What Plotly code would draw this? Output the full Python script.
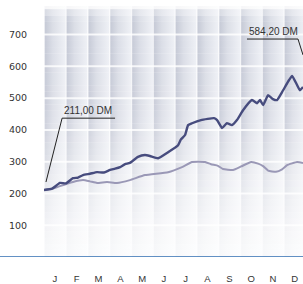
import plotly.graph_objects as go

# ---- data ----
months = ["J", "F", "M", "A", "M", "J", "J", "A", "S", "O", "N", "D"]
y_ticks = [100, 200, 300, 400, 500, 600, 700]

# dark series (x in months from start of year)
dark_x = [0.00, 0.37, 0.73, 1.01, 1.33, 1.56, 1.79, 2.11, 2.43, 2.75, 3.03, 3.26, 3.49,
          3.72, 3.94, 4.31, 4.63, 4.86, 5.23, 5.69, 6.15, 6.28, 6.47, 6.61, 6.79, 7.20,
          7.80, 7.94, 8.17, 8.39, 8.62, 8.85, 9.13, 9.54, 9.77, 9.91, 10.05, 10.28,
          10.50, 10.69, 10.92, 11.24, 11.38, 11.61, 11.74, 11.88]
dark_y = [211, 215, 233, 232, 248, 250, 258, 262, 267, 266, 274, 278, 283,
          292, 296, 315, 321, 318, 311, 330, 352, 370, 384, 415, 421, 431,
          437, 431, 406, 421, 415, 431, 462, 494, 484, 494, 478, 509,
          497, 494, 519, 557, 570, 541, 525, 535]

# light series
light_x = [0.00, 0.37, 0.73, 1.33, 1.79, 2.11, 2.43, 2.89, 3.35, 3.94, 4.63, 5.69, 6.33,
           6.79, 7.39, 7.66, 7.98, 8.21, 8.67, 9.04, 9.50, 9.82, 10.05, 10.28, 10.64,
           10.92, 11.15, 11.61, 11.88]
light_y = [211, 214, 223, 236, 242, 238, 233, 236, 233, 242, 258, 267, 283,
           299, 299, 292, 287, 277, 274, 285, 299, 294, 286, 272, 268,
           276, 289, 299, 296]

start_label = "211,00 DM"
end_label = "584,20 DM"

Y_MAX = 790
X_MAX = 11.88

fig = go.Figure()


def shade(f):
    """mix white with the column base colour by factor f"""
    base = (196, 200, 213)
    light = (238, 240, 245)
    d = tuple(round(255 - f * (255 - c)) for c in base)
    l = tuple(round(255 - f * (255 - c)) for c in light)
    return d, l


def factor(v):
    pts = [(0, 0.12), (100, 0.22), (200, 0.38), (300, 0.58), (400, 0.78), (500, 0.9),
           (740, 0.95), (765, 0.8), (790, 0.0)]
    for (a, fa), (b, fb) in zip(pts, pts[1:]):
        if a <= v <= b:
            return fa + (fb - fa) * (v - a) / (b - a)
    return 0


BAND = 20
for i in range(len(months)):
    y0 = 0
    while y0 < Y_MAX:
        y1 = min(y0 + BAND, Y_MAX)
        d, l = shade(factor((y0 + y1) / 2))
        fig.add_trace(go.Scatter(
            x=[i, i + 1, i + 1, i, i], y=[y0, y0, y1 + 0.8, y1 + 0.8, y0],
            mode="lines", line=dict(width=0), fill="toself",
            fillgradient=dict(type="horizontal", colorscale=[
                [0, "rgb(253,253,254)"], [0.07, "rgb(%d,%d,%d)" % d],
                [0.4, "rgb(%d,%d,%d)" % tuple((a + b) // 2 for a, b in zip(d, l))],
                [1, "rgb(%d,%d,%d)" % l]]),
            hoverinfo="skip", showlegend=False))
        y0 = y1

# white horizontal grid lines
for v in y_ticks:
    fig.add_trace(go.Scatter(
        x=[0, 12], y=[v, v], mode="lines",
        line=dict(color="rgba(255,255,255,0.8)", width=2),
        hoverinfo="skip", showlegend=False))

fig.add_trace(go.Scatter(x=light_x, y=light_y, mode="lines",
                         line=dict(color="#9a98b6", width=2, shape="spline", smoothing=0.4),
                         showlegend=False))
fig.add_trace(go.Scatter(x=dark_x, y=dark_y, mode="lines",
                         line=dict(color="#474c7e", width=2.4, shape="spline", smoothing=0.4),
                         showlegend=False))

# annotation leaders
fig.add_shape(type="line", xref="x", yref="y", x0=0.83, y0=437, x1=3.26, y1=437,
              line=dict(color="#222", width=1))
fig.add_shape(type="line", xref="x", yref="y", x0=0.83, y0=437, x1=0.09, y1=236,
              line=dict(color="#222", width=1))
fig.add_shape(type="line", xref="x", yref="y", x0=9.31, y0=686, x1=11.65, y1=686,
              line=dict(color="#222", width=1))
fig.add_shape(type="line", xref="x", yref="y", x0=11.65, y0=686, x1=11.88, y1=636,
              line=dict(color="#222", width=1))

fig.add_annotation(x=0.83, y=437, xref="x", yref="y", text=start_label, showarrow=False,
                   xanchor="left", yanchor="bottom", yshift=0,
                   font=dict(family="Liberation Sans", size=10, color="#333"))
fig.add_annotation(x=9.31, y=686, xref="x", yref="y", text=end_label, showarrow=False,
                   xanchor="left", yanchor="bottom", yshift=0,
                   font=dict(family="Liberation Sans", size=10, color="#333"))

# blue base line
fig.add_shape(type="line", xref="paper", yref="y", x0=-0.2, x1=1.05, y0=0, y1=0,
              line=dict(color="#2f6cb0", width=1.5))

fig.update_layout(
    width=303, height=284,
    margin=dict(l=44, r=0, t=6, b=27),
    paper_bgcolor="white", plot_bgcolor="white",
    xaxis=dict(range=[0, X_MAX], showgrid=False, zeroline=False, showline=False,
               automargin=False, fixedrange=True,
               tickmode="array", tickvals=[i + 0.5 for i in range(12)], ticktext=months,
               ticks="outside", ticklen=13, tickcolor="rgba(0,0,0,0)",
               tickfont=dict(family="Liberation Sans", size=9.5, color="#333")),
    yaxis=dict(range=[0, Y_MAX], showgrid=False, zeroline=False, showline=False,
               automargin=False, fixedrange=True,
               tickmode="array", tickvals=y_ticks,
               ticks="outside", ticklen=14, tickcolor="rgba(0,0,0,0)",
               tickfont=dict(family="DejaVu Sans", size=9.5, color="#333")),
)

fig.write_html("out.html", config={"displayModeBar": False},
               post_script="document.body.style.margin='0';document.body.style.overflow='hidden';")
